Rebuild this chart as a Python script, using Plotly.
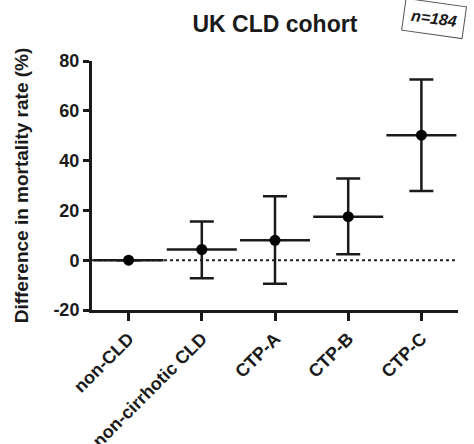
import plotly.graph_objects as go

categories = ["non-CLD", "non-cirrhotic CLD", "CTP-A", "CTP-B", "CTP-C"]
means = [0.0, 4.3, 8.0, 17.5, 50.2]
upper = [0.0, 15.5, 25.7, 32.8, 72.6]
lower = [0.0, -7.2, -9.5, 2.4, 27.8]
y_ticks = [-20, 0, 20, 40, 60, 80]

err_plus = [u - m for u, m in zip(upper, means)]
err_minus = [m - l for m, l in zip(means, lower)]
xs = list(range(len(categories)))

FONT = "Liberation Sans, Arial, sans-serif"
INK = "#1a1a1a"

fig = go.Figure()
# error bars (whiskers)
fig.add_trace(go.Scatter(
    x=xs, y=means, mode="markers",
    marker=dict(size=1, color="rgba(0,0,0,0)"),
    error_y=dict(type="data", symmetric=False, array=err_plus, arrayminus=err_minus,
                 color=INK, thickness=2.5, width=12),
    showlegend=False, hoverinfo="skip"))
# mean lines
fig.add_trace(go.Scatter(
    x=xs, y=means, mode="markers",
    marker=dict(symbol="line-ew-open", size=50, color=INK, line=dict(width=2.5, color=INK)),
    showlegend=False, hoverinfo="skip"))
# mean dots
fig.add_trace(go.Scatter(
    x=xs, y=means, mode="markers",
    marker=dict(symbol="circle", size=11, color="#000000"),
    showlegend=False))

fig.add_shape(type="line", xref="paper", x0=0, x1=1, yref="y", y0=0, y1=0,
              line=dict(color="#222222", width=2, dash="dot"), layer="below")

fig.update_layout(
    width=474, height=444,
    margin=dict(l=92, r=16, t=61, b=134),
    paper_bgcolor="white", plot_bgcolor="white",
    font=dict(family=FONT, color=INK),
    title=dict(text="<b>UK CLD cohort</b>", x=0.58, xanchor="center", xref="container",
               y=0.946, yanchor="middle",
               font=dict(size=23, family=FONT, color=INK)),
    xaxis=dict(range=[-0.5, 4.5], tickmode="array", tickvals=xs,
               ticktext=["<b>%s</b>" % c for c in categories], automargin=False,
               tickangle=-45, ticks="outside", ticklen=8, tickwidth=2.5, tickcolor=INK,
               showline=True, linewidth=3, linecolor=INK, showgrid=False, zeroline=False,
               tickfont=dict(size=18, family=FONT, color=INK)),
    yaxis=dict(range=[-20, 80], tickmode="array", tickvals=y_ticks,
               ticktext=["<b>%d</b>" % t for t in y_ticks], automargin=False,
               ticks="outside", ticklen=6, tickwidth=2.5, tickcolor=INK,
               showline=True, linewidth=3, linecolor=INK, showgrid=False, zeroline=False,
               tickfont=dict(size=18, family=FONT, color=INK),
               title=dict(text="<b>Difference in mortality rate (%)</b>", standoff=20,
                          font=dict(size=19, family=FONT, color=INK))),
)

fig.add_annotation(text="<i><b>n=184</b></i>", xref="paper", yref="paper",
                   x=0.935, y=1.169, xanchor="center", yanchor="middle", showarrow=False,
                   textangle=8, font=dict(size=16, family=FONT, color=INK),
                   bordercolor="#555555", borderwidth=1, borderpad=7, bgcolor="white")

fig.write_html("out.html", config={"displayModeBar": False},
               post_script="document.body.style.margin='0';")
